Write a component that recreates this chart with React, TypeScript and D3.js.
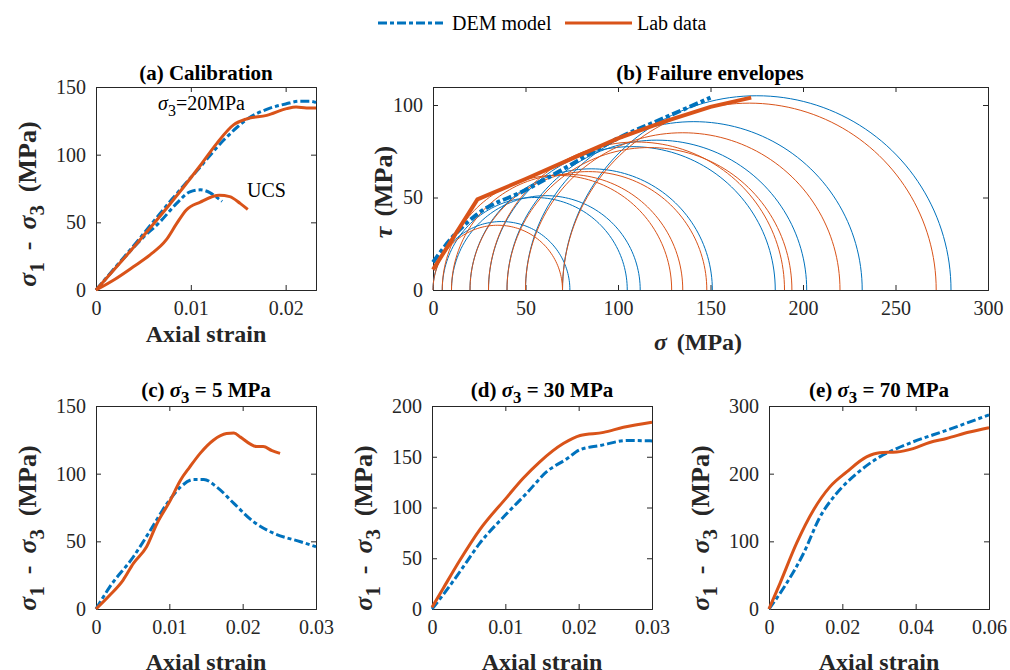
import React, { useEffect, useRef } from "react";
import * as d3 from "d3";

type Pt = [number, number];

const blue = "#0072BD";
const orange = "#D95319";
const axisColor = "#262626";
const serif = "Liberation Serif";
const demDash = "9,3,4,3";

// (a) calibration: [axial strain, sigma1 - sigma3 (MPa)]
const calDem20: Pt[] = [[0, 0], [0.004, 33], [0.008, 67], [0.011, 91], [0.0135, 111], [0.015, 121], [0.016, 126.5], [0.018, 133.5], [0.02, 137.5], [0.0215, 139.5], [0.0225, 139.5], [0.0232, 138.5]];
const calLab20: Pt[] = [[0, 0], [0.0039, 31], [0.0074, 60], [0.011, 92], [0.0127, 108], [0.0145, 122], [0.0159, 126.5], [0.018, 129], [0.0201, 134], [0.0211, 135.2], [0.0222, 134.5], [0.0232, 134.5]];
const calDemUcs: Pt[] = [[0, 0], [0.003, 24], [0.005, 39], [0.0067, 50], [0.0085, 64], [0.0099, 72.5], [0.011, 74], [0.012, 72], [0.013, 67], [0.0133, 65.5]];
const calLabUcs: Pt[] = [[0, 0], [0.002, 8], [0.0039, 17], [0.0057, 26], [0.0074, 37], [0.0085, 49], [0.0095, 59], [0.011, 65], [0.013, 70], [0.0141, 69], [0.0152, 64], [0.016, 59.5]];

// (b) Mohr circles at peak (MPa) and fitted envelopes [sigma, tau]
const demSigma3 = [0, 5, 10, 20, 30, 40, 50, 70];
const demSigma1 = [74, 105, 112, 151, 185, 202, 232, 280];
const labSigma3 = [0, 5, 10, 20, 30, 40, 50, 70];
const labSigma1 = [70, 129, 135, 148, 190, 194, 220, 272];
const demEnvelope: Pt[] = [[0, 15], [10, 28], [24, 41], [50, 54], [75, 68], [100, 82], [125, 93], [150, 104]];
const labEnvelope: Pt[] = [[0, 11], [24, 49], [50, 60], [75, 71], [100, 82], [125, 91], [150, 99], [172, 104]];

// (c)-(e) triaxial tests
const dem5: Pt[] = [[0, 0], [0.0019, 16.5], [0.0051, 38.6], [0.0074, 58], [0.0097, 78], [0.0115, 90], [0.0133, 95.7], [0.0147, 95.7], [0.0165, 90], [0.0188, 78], [0.0215, 64.4], [0.0242, 56], [0.0279, 49.7], [0.03, 46]];
const lab5: Pt[] = [[0, 0], [0.0019, 10.3], [0.0037, 21.4], [0.0051, 33.7], [0.0069, 46], [0.0083, 63], [0.0101, 80], [0.0115, 95], [0.0128, 105], [0.0142, 115], [0.016, 124.7], [0.0178, 129.6], [0.0188, 130], [0.0197, 127], [0.021, 122], [0.0219, 120], [0.0228, 120], [0.024, 117], [0.0251, 115]];
const dem30: Pt[] = [[0, 0], [0.0015, 13.8], [0.0038, 36.7], [0.0065, 64.6], [0.0102, 94], [0.0129, 114], [0.0156, 135], [0.0184, 148], [0.0202, 157], [0.0229, 161], [0.0266, 166], [0.03, 165.6]];
const lab30: Pt[] = [[0, 1.6], [0.0015, 20], [0.0038, 48], [0.0065, 78], [0.0102, 110], [0.0124, 128.5], [0.0147, 145], [0.0179, 163], [0.0202, 171], [0.0234, 174], [0.0261, 179], [0.03, 184]];
const dem70: Pt[] = [[0, 0], [0.0048, 38], [0.0094, 82], [0.0139, 136], [0.0184, 170.7], [0.0239, 200], [0.0302, 224.8], [0.0348, 237], [0.0393, 247], [0.0484, 264], [0.06, 287]];
const lab70: Pt[] = [[0, 0], [0.003, 38], [0.0075, 97], [0.0121, 146], [0.0166, 180.5], [0.0212, 202.6], [0.0266, 224.8], [0.0302, 231], [0.0348, 232], [0.0393, 237], [0.0438, 246], [0.0484, 252], [0.0547, 261.6], [0.06, 268]];

type Part = { t: string; it?: boolean; sub?: boolean; dx?: number };

function writeParts(text: any, parts: Part[], size: number) {
  let down = false;
  parts.forEach(p => {
    const ts = text.append("tspan").text(p.t);
    if (p.it) ts.attr("font-style", "italic");
    if (p.dx) ts.attr("dx", p.dx);
    if (p.sub && !down) { ts.attr("dy", size * 0.3).attr("font-size", size * 0.8); down = true; }
    else if (!p.sub && down) { ts.attr("dy", -size * 0.3); down = false; }
    else if (p.sub) ts.attr("font-size", size * 0.8);
  });
}

export default function App() {
  const ref = useRef<SVGSVGElement>(null);

  useEffect(() => {
    const svg = d3.select(ref.current);
    svg.selectAll("*").remove();

    const txt = (sel: any, size: number, bold = false) =>
      sel.attr("font-family", serif).attr("font-size", size).attr("font-weight", bold ? "bold" : "normal");

    const frame = (x0: number, x1: number, y0: number, y1: number, xMax: number, yMax: number, xTicks: number[], yTicks: number[]) => {
      const x = d3.scaleLinear().domain([0, xMax]).range([x0, x1]);
      const y = d3.scaleLinear().domain([0, yMax]).range([y1, y0]);
      const g = svg.append("g");
      const fmt = (d: any) => String(d);
      g.append("g").attr("transform", `translate(0,${y1})`)
        .call(d3.axisBottom(x).tickValues(xTicks).tickSize(-5).tickPadding(11).tickFormat(fmt));
      g.append("g").attr("transform", `translate(0,${y0})`)
        .call(d3.axisTop(x).tickValues(xTicks).tickSize(-5).tickFormat(() => ""));
      g.append("g").attr("transform", `translate(${x0},0)`)
        .call(d3.axisLeft(y).tickValues(yTicks).tickSize(-5).tickPadding(10).tickFormat(fmt));
      g.append("g").attr("transform", `translate(${x1},0)`)
        .call(d3.axisRight(y).tickValues(yTicks).tickSize(-5).tickFormat(() => ""));
      g.selectAll("g").attr("font-family", serif);
      g.selectAll(".domain").attr("stroke", axisColor).attr("stroke-width", 1);
      g.selectAll(".tick line").attr("stroke", axisColor);
      txt(g.selectAll(".tick text"), 20).attr("fill", axisColor);
      const plot = svg.append("g");
      const line = d3.line<Pt>().x(d => x(d[0])).y(d => y(d[1])).curve(d3.curveMonotoneX);
      const straight = d3.line<Pt>().x(d => x(d[0])).y(d => y(d[1]));
      return { x, y, plot, line, straight };
    };

    const curve = (f: any, data: Pt[], color: string, dem: boolean, w = 3, gen?: any) => {
      f.plot.append("path").attr("d", (gen || f.line)(data)).attr("fill", "none")
        .attr("stroke", color).attr("stroke-width", w)
        .attr("stroke-dasharray", dem ? demDash : null);
    };

    const title = (cx: number, cy: number, parts: Part[]) => {
      const t = txt(svg.append("text"), 21, true).attr("x", cx).attr("y", cy).attr("text-anchor", "middle").attr("fill", "#000");
      writeParts(t, parts, 21);
    };

    const xLabel = (cx: number, cy: number, parts: Part[]) => {
      const t = txt(svg.append("text"), 24, true).attr("x", cx).attr("y", cy).attr("text-anchor", "middle").attr("fill", axisColor);
      writeParts(t, parts, 24);
    };

    const yLabel = (cx: number, cy: number, parts: Part[]) => {
      const t = txt(svg.append("text"), 26, true).attr("transform", `translate(${cx},${cy}) rotate(-90)`)
        .attr("text-anchor", "middle").attr("fill", axisColor);
      writeParts(t, parts, 26);
    };

    const stressLabel: Part[] = [
      { t: "σ", it: true }, { t: "1", sub: true }, { t: "-", dx: 12 }, { t: "σ", it: true, dx: 12 },
      { t: "3", sub: true }, { t: "(MPa)", dx: 13 },
    ];

    // (a)
    const fa = frame(96, 316, 87, 290, 0.0232, 150, [0, 0.01, 0.02], [0, 50, 100, 150]);
    curve(fa, calDem20, blue, true);
    curve(fa, calDemUcs, blue, true);
    curve(fa, calLab20, orange, false);
    curve(fa, calLabUcs, orange, false);
    const ann = txt(svg.append("text"), 20).attr("x", 158).attr("y", 110).attr("fill", "#000");
    writeParts(ann, [{ t: "σ", it: true }, { t: "3", sub: true }, { t: "=20MPa" }], 20);
    txt(svg.append("text"), 20).attr("x", 247).attr("y", 197).attr("fill", "#000").text("UCS");
    title(206, 80, [{ t: "(a) Calibration" }]);
    xLabel(206, 342, [{ t: "Axial strain" }]);
    yLabel(36, 204, stressLabel);

    // (b)
    const fb = frame(433, 988, 87, 290, 300, 203 / 1.85, [0, 50, 100, 150, 200, 250, 300], [0, 50, 100]);
    const circleLine = d3.line<Pt>().x(d => fb.x(d[0])).y(d => fb.y(d[1]));
    const angles = d3.range(0, 181, 2).map(a => (a * Math.PI) / 180);
    const circles = (s3: number[], s1: number[], color: string) => {
      s3.forEach((lo, i) => {
        const c = (lo + s1[i]) / 2;
        const r = (s1[i] - lo) / 2;
        const pts: Pt[] = angles.map(a => [c + r * Math.cos(a), r * Math.sin(a)]);
        fb.plot.append("path").attr("d", circleLine(pts)).attr("fill", "none").attr("stroke", color).attr("stroke-width", 1);
      });
    };
    circles(demSigma3, demSigma1, blue);
    circles(labSigma3, labSigma1, orange);
    curve(fb, demEnvelope, blue, true, 4);
    curve(fb, labEnvelope, orange, false, 4, fb.straight);
    title(710, 80, [{ t: "(b) Failure envelopes" }]);
    xLabel(698, 350, [{ t: "σ", it: true }, { t: "(MPa)", dx: 10 }]);
    yLabel(392, 192, [{ t: "τ", it: true }, { t: "(MPa)", dx: 10 }]);

    // (c)
    const fc = frame(96, 316, 406, 609, 0.03, 150, [0, 0.01, 0.02, 0.03], [0, 50, 100, 150]);
    curve(fc, dem5, blue, true);
    curve(fc, lab5, orange, false);
    title(206, 397, [{ t: "(c) " }, { t: "σ", it: true }, { t: "3", sub: true }, { t: " = 5 MPa" }]);
    xLabel(206, 670, [{ t: "Axial strain" }]);
    yLabel(36, 528, stressLabel);

    // (d)
    const fd = frame(432, 652, 406, 609, 0.03, 200, [0, 0.01, 0.02, 0.03], [0, 50, 100, 150, 200]);
    curve(fd, dem30, blue, true);
    curve(fd, lab30, orange, false);
    title(542, 397, [{ t: "(d) " }, { t: "σ", it: true }, { t: "3", sub: true }, { t: " = 30 MPa" }]);
    xLabel(542, 670, [{ t: "Axial strain" }]);
    yLabel(372, 528, stressLabel);

    // (e)
    const fe = frame(769, 989, 406, 609, 0.06, 300, [0, 0.02, 0.04, 0.06], [0, 100, 200, 300]);
    curve(fe, dem70, blue, true);
    curve(fe, lab70, orange, false);
    title(879, 397, [{ t: "(e) " }, { t: "σ", it: true }, { t: "3", sub: true }, { t: " = 70 MPa" }]);
    xLabel(879, 670, [{ t: "Axial strain" }]);
    yLabel(709, 528, stressLabel);

    // legend
    const lg = svg.append("g");
    lg.append("line").attr("x1", 378).attr("x2", 443).attr("y1", 23).attr("y2", 23)
      .attr("stroke", blue).attr("stroke-width", 3).attr("stroke-dasharray", demDash);
    txt(lg.append("text"), 20).attr("x", 452).attr("y", 30).text("DEM model");
    lg.append("line").attr("x1", 565).attr("x2", 632).attr("y1", 23).attr("y2", 23)
      .attr("stroke", orange).attr("stroke-width", 3);
    txt(lg.append("text"), 20).attr("x", 637).attr("y", 30).text("Lab data");
  }, []);

  return (
    <svg ref={ref} width={1010} height={670}
      style={{ position: "absolute", left: 0, top: 0, background: "#fff" }} />
  );
}
